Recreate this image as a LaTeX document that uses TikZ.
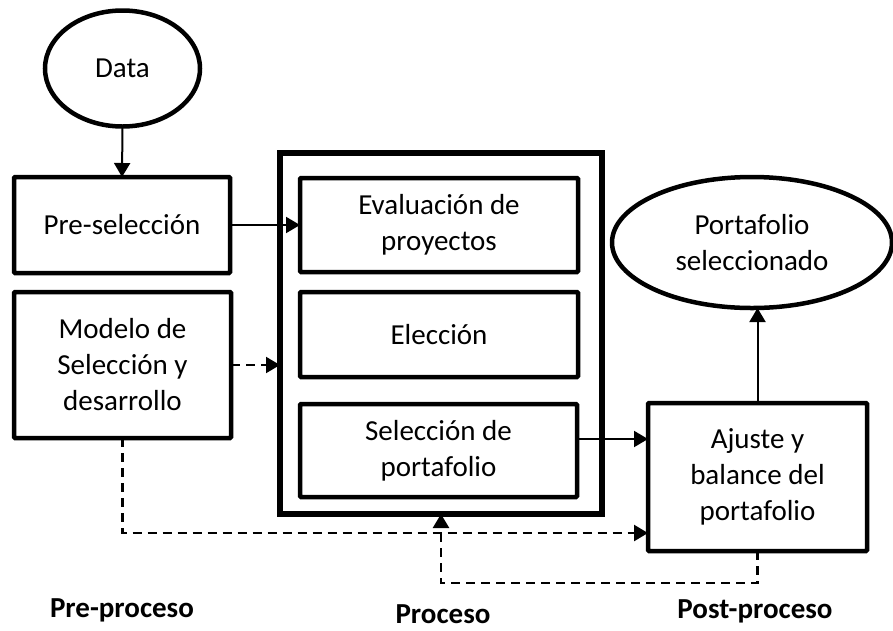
\documentclass[tikz,border=0pt]{standalone}
\usepackage{fontspec}
\setmainfont{Carlito}
\usetikzlibrary{shapes.geometric,arrows.meta}
\begin{document}
\begin{tikzpicture}[x=1pt,y=-1pt,
  every node/.style={outer sep=0pt,inner sep=0pt,align=center,font=\fontsize{29}{36}\selectfont},
  boxn/.style={draw,line width=4.5pt,rectangle,rounded corners=1pt},
  ovaln/.style={draw,line width=4.5pt,ellipse},
  tip/.style={-{Triangle[length=14pt,width=16pt]}},
  conn/.style={line width=2pt,tip},
  dconn/.style={line width=2.5pt,dash pattern=on 9pt off 6pt,tip},
  lbl/.style={font=\fontsize{29}{36}\selectfont\bfseries}]
\useasboundingbox (0,0) rectangle (893,630);
\node[ovaln,minimum width=155pt,minimum height=116pt] (data) at (122.5,68.5) {Data};
\node[boxn,minimum width=216pt,minimum height=96pt] (pre) at (122,225) {Pre-selección};
\node[boxn,minimum width=217pt,minimum height=146pt] (modelo) at (122.5,365) {Modelo de\\Selección y\\desarrollo};
\node[draw,line width=5.5pt,rectangle,minimum width=322pt,minimum height=361pt] (outer) at (441,333.5) {};
\node[boxn,minimum width=278pt,minimum height=94pt] (eval) at (439,225) {Evaluación de\\proyectos};
\node[boxn,minimum width=278pt,minimum height=85pt] (elec) at (439,334.5) {Elección};
\node[boxn,minimum width=277pt,minimum height=93pt] (selp) at (438.5,450.5) {Selección de\\portafolio};
\node[boxn,minimum width=219pt,minimum height=148pt] (ajuste) at (757.5,477) {Ajuste y\\balance del\\portafolio};
\node[ovaln,minimum width=280pt,minimum height=131pt] (port) at (752,242.5) {Portafolio\\seleccionado};
\node[lbl] (l1) at (122,610) {Pre-proceso};
\node[lbl] (l2) at (443,614) {Proceso};
\node[lbl] (l3) at (755,611) {Post-proceso};
\coordinate (c1) at (122.5,533);
\coordinate (c2) at (441,583);
\coordinate (c3) at (577,439);
\draw[conn] (data.south) -- (pre.north);
\draw[conn] (pre.east) -- (eval.west);
\draw[dconn,line width=2pt] (modelo.east) -- (modelo.east -| outer.west);
\draw[conn] (c3) -- (c3 -| ajuste.west);
\draw[conn] (ajuste.north) -- (ajuste.north |- port.south);
\draw[dconn] (modelo.south) |- (c1 -| ajuste.west);
\draw[dconn] (ajuste.south) |- (c2) -- (outer.south);
\end{tikzpicture}
\end{document}
